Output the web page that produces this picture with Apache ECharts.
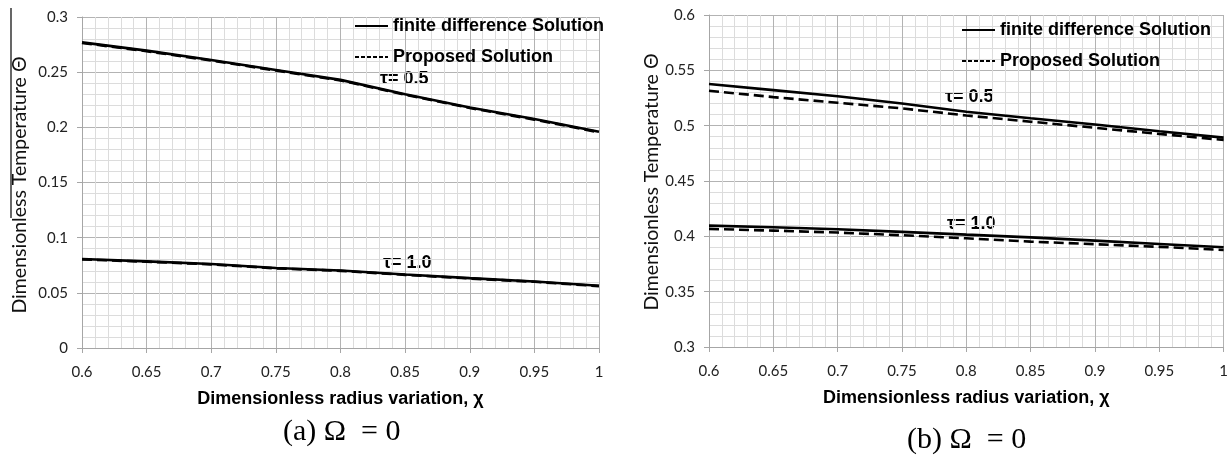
<!DOCTYPE html>
<html>
<head>
<meta charset="utf-8">
<script src="https://cdn.jsdelivr.net/npm/echarts@6/dist/echarts.min.js"></script>
<style>
    html, body { margin: 0; padding: 0; background: #fff; }
    #chart { width: 1231px; height: 460px; }
</style>
</head>
<body>
<div id="chart"></div>
<script>
    // radius variation chi
    var chi = [0.6, 0.65, 0.7, 0.75, 0.8, 0.85, 0.9, 0.95, 1.0];

    // (a) left panel
    var fdA05 = [0.277, 0.2695, 0.261, 0.252, 0.243, 0.230, 0.218, 0.2075, 0.196];
    var prA05 = [0.2765, 0.269, 0.2605, 0.2515, 0.2425, 0.2295, 0.2175, 0.207, 0.1955];
    var fdA10 = [0.0806, 0.0785, 0.0761, 0.0725, 0.0702, 0.0666, 0.0633, 0.0603, 0.0564];
    var prA10 = [0.0803, 0.0782, 0.0758, 0.0722, 0.0699, 0.0663, 0.0630, 0.0600, 0.0561];

    // (b) right panel
    var fdB05 = [0.5377, 0.5321, 0.5266, 0.5200, 0.5126, 0.5067, 0.5010, 0.4950, 0.4892];
    var prB05 = [0.5316, 0.5258, 0.5207, 0.5156, 0.5092, 0.5036, 0.4981, 0.4925, 0.4871];
    var fdB10 = [0.4097, 0.4082, 0.4064, 0.4040, 0.4015, 0.3991, 0.3961, 0.3931, 0.3901];
    var prB10 = [0.4067, 0.4052, 0.4034, 0.4010, 0.3982, 0.3952, 0.3929, 0.3905, 0.3877];

    var yRangeA = [0, 0.3];
    var yRangeB = [0.3, 0.6];

    var fdName = 'finite difference Solution';
    var prName = 'Proposed Solution';

    function pairs(xs, ys) {
        return xs.map(function (x, i) { return [x, ys[i]]; });
    }
    function fmt(v) { return String(parseFloat(v.toFixed(2))); }

    function xAxisFor(gi) {
        return {
            type: 'value', gridIndex: gi, min: 0.6, max: 1, interval: 0.05,
            name: 'Dimensionless radius variation, \u03c7',
            nameLocation: 'middle', nameGap: 42,
            nameTextStyle: { fontFamily: 'Liberation Sans', fontWeight: 'bold', fontSize: 18, color: '#000' },
            axisLine: { show: true, lineStyle: { color: '#a6a6a6', width: 1 } },
            axisTick: { show: true, length: 5, lineStyle: { color: '#a6a6a6' } },
            axisLabel: { margin: 17, fontFamily: 'Lato', fontSize: 15, color: '#222', formatter: fmt },
            splitLine: { show: true, lineStyle: { color: '#b3b3b3', width: 1 } },
            minorTick: { show: false, splitNumber: 5 },
            minorSplitLine: { show: true, lineStyle: { color: '#dcdcdc', width: 1 } }
        };
    }
    function yAxisFor(gi, range) {
        return {
            type: 'value', gridIndex: gi, min: range[0], max: range[1], interval: 0.05,
            axisLine: { show: true, lineStyle: { color: '#a6a6a6', width: 1 } },
            axisTick: { show: true, length: 5, lineStyle: { color: '#a6a6a6' } },
            axisLabel: { margin: 14, fontFamily: 'Lato', fontSize: 15, color: '#222', formatter: fmt },
            splitLine: { show: true, lineStyle: { color: '#b3b3b3', width: 1 } },
            minorTick: { show: false, splitNumber: 5 },
            minorSplitLine: { show: true, lineStyle: { color: '#dcdcdc', width: 1 } }
        };
    }
    function line(name, gi, data, dashed) {
        return {
            name: name, type: 'line', xAxisIndex: gi, yAxisIndex: gi,
            data: data, showSymbol: false, symbol: 'none', smooth: false,
            silent: true, animation: false,
            itemStyle: { color: '#000' },
            lineStyle: dashed
                ? { color: '#000', width: 2.6, type: [10, 5] }
                : { color: '#000', width: 2.6 }
        };
    }
    function legendAt(left, top) {
        return {
            orient: 'vertical', left: left, top: top, padding: 0,
            itemWidth: 33, itemHeight: 14, itemGap: 13,
            selectedMode: false,
            textStyle: { fontFamily: 'Liberation Sans', fontWeight: 'bold', fontSize: 18, color: '#000' },
            data: [
                { name: fdName, itemStyle: { color: 'rgba(0,0,0,0)', borderWidth: 0 },
                  lineStyle: { color: '#000', width: 2, type: 'solid' } },
                { name: prName, itemStyle: { color: 'rgba(0,0,0,0)', borderWidth: 0 },
                  lineStyle: { color: '#000', width: 2, type: [4, 2] } }
            ]
        };
    }
    function text(x, y, str, font) {
        return {
            type: 'text', x: x, y: y,
            style: { text: str, font: font, fill: '#000', align: 'left', verticalAlign: 'middle' }
        };
    }
    function vtext(x, y, str, font) {
        return {
            type: 'text', x: x, y: y, rotation: Math.PI / 2,
            style: { text: str, font: font, fill: '#111', align: 'center', verticalAlign: 'middle' }
        };
    }

    var chart = echarts.init(document.getElementById('chart'), null, { renderer: 'canvas' });
    chart.setOption({
        animation: false,
        backgroundColor: '#fff',
        grid: [
            { left: 82, top: 17, width: 517, height: 331 },
            { left: 709, top: 15, width: 517, height: 332 }
        ],
        xAxis: [xAxisFor(0), xAxisFor(1)],
        yAxis: [yAxisFor(0, yRangeA), yAxisFor(1, yRangeB)],
        legend: [legendAt(354, 17), legendAt(961, 21)],
        series: [
            line(fdName, 0, pairs(chi, fdA05), false),
            line(prName, 0, pairs(chi, prA05), true),
            line(fdName, 0, pairs(chi, fdA10), false),
            line(prName, 0, pairs(chi, prA10), true),
            line(fdName, 1, pairs(chi, fdB05), false),
            line(prName, 1, pairs(chi, prB05), true),
            line(fdName, 1, pairs(chi, fdB10), false),
            line(prName, 1, pairs(chi, prB10), true)
        ],
        graphic: [
            // y axis titles
            vtext(20, 185, 'Dimensionless Temperature \u0398', '19.5px Lato'),
            vtext(652, 182, 'Dimensionless Temperature \u0398', '19.5px Lato'),
            { type: 'line', shape: { x1: 11, y1: 8, x2: 11, y2: 218 }, style: { stroke: '#000', lineWidth: 1.2 } },
            // curve labels
            text(380, 79, '\u03c4= 0.5', 'bold 18px Liberation Sans'),
            text(383, 263, '\u03c4= 1.0', 'bold 18px Liberation Sans'),
            text(945, 97, '\u03c4= 0.5', 'bold 18px Liberation Sans'),
            text(947, 224, '\u03c4= 1.0', 'bold 18px Liberation Sans'),
            // captions
            text(283, 432, '(a) \u03a9  = 0', '30px Liberation Serif'),
            text(907, 440, '(b) \u03a9  = 0', '30px Liberation Serif')
        ]
    });
</script>
</body>
</html>
